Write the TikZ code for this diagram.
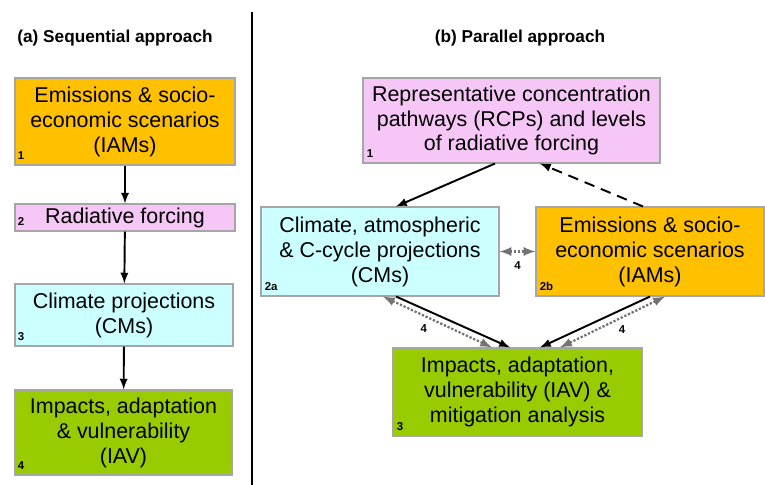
\documentclass[tikz,border=0pt]{standalone}
\usepackage{fontspec}
\setmainfont{Liberation Sans}
\usetikzlibrary{positioning,calc}
\definecolor{iamorange}{RGB}{255,192,0}
\definecolor{rfpink}{RGB}{246,198,246}
\definecolor{cmcyan}{RGB}{204,255,255}
\definecolor{iavgreen}{RGB}{153,204,0}
\tikzset{
  box/.style={draw=gray!70,line width=0.6pt,inner sep=0pt,align=center,
    font=\fontsize{12.2}{14.2}\selectfont},
  numlab/.style={font=\bfseries\fontsize{6.5}{6.5}\selectfont,inner sep=0pt,anchor=south west},
  heading/.style={font=\bfseries\fontsize{9.8}{11}\selectfont},
  link/.style={->,line width=1.1pt},
  feedback/.style={<->,densely dotted,line width=1.3pt,black!55},
  fbnum/.style={font=\bfseries\fontsize{6.5}{6.5}\selectfont,inner sep=0pt,text=black}
}

\begin{document}
\begin{tikzpicture}[>=latex]
\useasboundingbox (0,0) rectangle (15.3,-9.7);

%divider
\draw [line width=1.7pt] (5.04,-0.24) -- (5.04,-9.7);

%(a) sequential
\node [heading] (titleA) at (2.3,-0.76) {(a) Sequential approach};

\node [box,fill=iamorange,minimum width=4.4cm,minimum height=1.74cm] (seqIAM) at (2.5,-2.43)
  {Emissions \& socio-\\economic scenarios\\(IAMs)};
\node [numlab] (seqIAMnum) at ([shift={(0.06,0.12)}]seqIAM.south west) {1};

\node [box,fill=rfpink,minimum width=4.4cm,minimum height=0.54cm] (seqRF) at (2.5,-4.35)
  {Radiative forcing};
\node [numlab] (seqRFnum) at ([shift={(0.06,0.12)}]seqRF.south west) {2};

\node [box,fill=cmcyan,minimum width=4.36cm,minimum height=1.24cm] (seqCM) at (2.48,-6.3)
  {Climate projections\\(CMs)};
\node [numlab] (seqCMnum) at ([shift={(0.06,0.12)}]seqCM.south west) {3};

\node [box,fill=iavgreen,minimum width=4.34cm,minimum height=1.7cm] (seqIAV) at (2.47,-8.65)
  {Impacts, adaptation\\\& vulnerability\\(IAV)};
\node [numlab] (seqIAVnum) at ([shift={(0.06,0.12)}]seqIAV.south west) {4};

\draw [link] (seqIAM) -- (seqRF);
\draw [link] (seqRF) -- (seqCM);
\draw [link] (seqCM) -- (seqIAV);

%(b) parallel
\node [heading] (titleB) at (10.4,-0.76) {(b) Parallel approach};

\node [box,fill=rfpink,minimum width=5.94cm,minimum height=1.7cm] (parRCP) at (10.23,-2.41)
  {Representative concentration\\pathways (RCPs) and levels\\of radiative forcing};
\node [numlab] (parRCPnum) at ([shift={(0.08,0.12)}]parRCP.south west) {1};

\node [box,fill=cmcyan,minimum width=4.76cm,minimum height=1.78cm] (parCM) at (7.6,-5.03)
  {Climate, atmospheric\\\& C-cycle projections\\(CMs)};
\node [numlab] (parCMnum) at ([shift={(0.08,0.12)}]parCM.south west) {2a};

\node [box,fill=iamorange,minimum width=4.56cm,minimum height=1.78cm] (parIAM) at (13.0,-5.03)
  {Emissions \& socio-\\economic scenarios\\(IAMs)};
\node [numlab] (parIAMnum) at ([shift={(0.08,0.12)}]parIAM.south west) {2b};

\node [box,fill=iavgreen,minimum width=4.98cm,minimum height=1.76cm] (parIAV) at (10.35,-7.84)
  {Impacts, adaptation,\\vulnerability (IAV) \&\\mitigation analysis};
\node [numlab] (parIAVnum) at ([shift={(0.08,0.12)}]parIAV.south west) {3};

%links
\draw [link] ([xshift=-0.33cm]parRCP.south) -- ([xshift=0.32cm]parCM.north);
\draw [link,dash pattern=on 6pt off 4pt] ([xshift=-0.14cm]parIAM.north) -- ([xshift=0.57cm]parRCP.south);
\draw [link] ([xshift=0.32cm]parCM.south) -- ([xshift=-0.15cm]parIAV.north);
\draw [link] (parIAM.south) -- ([xshift=0.45cm]parIAV.north);

%feedbacks
\draw [feedback] (parCM.east) -- (parIAM.west)
  node [fbnum,midway,below=0.18cm] (fbA) {4};
\draw [feedback] ([xshift=0.06cm]parCM.south) -- ([xshift=-0.51cm]parIAV.north)
  node [fbnum,pos=0.62,left=0.45cm] (fbB) {4};
\draw [feedback] ([xshift=0.3cm]parIAM.south) -- ([xshift=0.85cm]parIAV.north)
  node [fbnum,pos=0.65,right=0.42cm] (fbC) {4};
\end{tikzpicture}
\end{document}
